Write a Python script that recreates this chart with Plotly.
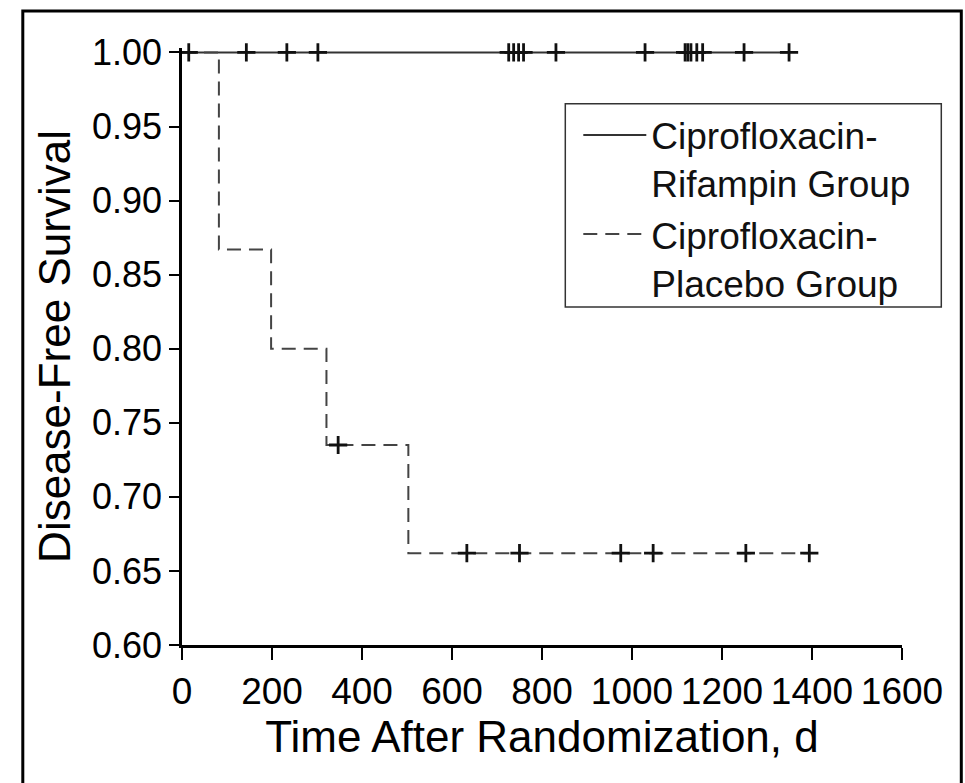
import plotly.graph_objects as go

# ---------------- data ----------------
# Ciprofloxacin-Rifampin group: no events, only censored observations (days)
rif_censor_days = [15, 143, 233, 302, 726, 737, 748, 759, 831, 1029,
                   1118, 1124, 1131, 1144, 1157, 1249, 1349]
rif_survival = 1.00

# Ciprofloxacin-Placebo group: event times and survival after each event
plc_event_days = [82, 198, 321, 503]
plc_survival_after = [0.867, 0.800, 0.735, 0.662]
plc_censor_days = [347, 633, 750, 975, 1047, 1253, 1394]
plc_censor_surv = [0.735, 0.662, 0.662, 0.662, 0.662, 0.662, 0.662]

series_names = ["Ciprofloxacin-<br>Rifampin Group",
                "Ciprofloxacin-<br>Placebo Group"]

x_ticks = [0, 200, 400, 600, 800, 1000, 1200, 1400, 1600]
y_ticks = [0.60, 0.65, 0.70, 0.75, 0.80, 0.85, 0.90, 0.95, 1.00]

# ---------------- step lines built from the data ----------------
rif_x = [0, max(rif_censor_days)]
rif_y = [rif_survival, rif_survival]

plc_x = [0] + plc_event_days + [max(plc_censor_days)]
plc_y = [1.0] + plc_survival_after + [plc_survival_after[-1]]

FONT = "Liberation Sans, Arial, Helvetica, sans-serif"
W, H = 965, 783
L, R_EDGE = 181.7, 901.7
Y_BOTTOM = 645.5
y_range = [0.60, 1.003]
px_per_unit = (Y_BOTTOM - 52.0) / 0.40
T = Y_BOTTOM - (y_range[1] - y_range[0]) * px_per_unit

fig = go.Figure()

fig.add_trace(go.Scatter(
    x=rif_x, y=rif_y, mode="lines", name=series_names[0], legendgroup="a",
    line=dict(color="#333333", width=2, shape="hv"),
    cliponaxis=False,
))
fig.add_trace(go.Scatter(
    x=plc_x, y=plc_y, mode="lines", name=series_names[1], legendgroup="b",
    line=dict(color="#444444", width=2, shape="hv", dash="14px,8px"),
    cliponaxis=False,
))
fig.add_trace(go.Scatter(
    x=rif_censor_days, y=[rif_survival] * len(rif_censor_days),
    mode="markers", showlegend=False, hoverinfo="x+y", legendgroup="a",
    marker=dict(symbol="cross-thin", size=13, color="#111111",
                line=dict(color="#111111", width=2.8)),
    cliponaxis=False,
))
fig.add_trace(go.Scatter(
    x=plc_censor_days, y=plc_censor_surv,
    mode="markers", showlegend=False, hoverinfo="x+y", legendgroup="b",
    marker=dict(symbol="cross-thin", size=13, color="#111111",
                line=dict(color="#111111", width=2.8)),
    cliponaxis=False,
))

plot_w = R_EDGE - L
plot_h = Y_BOTTOM - T


def px_to_paper_x(px):
    return (px - L) / plot_w


def px_to_paper_y(py):
    return (Y_BOTTOM - py) / plot_h


fig.update_layout(
    width=W, height=H,
    margin=dict(l=L, r=W - R_EDGE, t=T, b=H - Y_BOTTOM, autoexpand=False),
    paper_bgcolor="white", plot_bgcolor="white",
    font=dict(family=FONT, color="black"),
    showlegend=True,
    legend=dict(
        x=px_to_paper_x(578), y=px_to_paper_y(104),
        xanchor="left", yanchor="top",
        borderwidth=0, bgcolor="rgba(0,0,0,0)",
        font=dict(size=37, family=FONT, color="#111111"),
        itemwidth=63, valign="top", tracegroupgap=0,
    ),
    xaxis=dict(
        range=[0, 1600], tickvals=x_ticks,
        ticktext=[str(v) for v in x_ticks],
        showgrid=False, zeroline=False,
        showline=True, linecolor="black", linewidth=2.5,
        ticks="outside", ticklen=12, tickwidth=2, tickcolor="black",
        tickfont=dict(size=37, family=FONT, color="black"),
        title=dict(text="Time After Randomization, d",
                   font=dict(size=44, family=FONT, color="black"),
                   standoff=8),
    ),
    yaxis=dict(
        range=y_range, tickvals=y_ticks,
        ticktext=[f"{v:.2f}" for v in y_ticks],
        showgrid=False, zeroline=False,
        showline=True, linecolor="black", linewidth=2.5,
        ticks="outside", ticklen=10, tickwidth=2, tickcolor="black",
        tickfont=dict(size=36, family=FONT, color="black"),
        title=dict(text="Disease-Free Survival",
                   font=dict(size=44, family=FONT, color="black"),
                   standoff=8),
    ),
    shapes=[
        dict(type="rect", xref="paper", yref="paper", layer="below",
             x0=px_to_paper_x(22.5), x1=px_to_paper_x(961),
             y0=px_to_paper_y(790), y1=px_to_paper_y(10.5),
             line=dict(color="black", width=3), fillcolor="rgba(0,0,0,0)"),
        dict(type="rect", xref="paper", yref="paper", layer="below",
             x0=px_to_paper_x(565), x1=px_to_paper_x(941),
             y0=px_to_paper_y(307), y1=px_to_paper_y(103.5),
             line=dict(color="#333333", width=1.5), fillcolor="white"),
    ],
)

fig.write_html("out.html")
